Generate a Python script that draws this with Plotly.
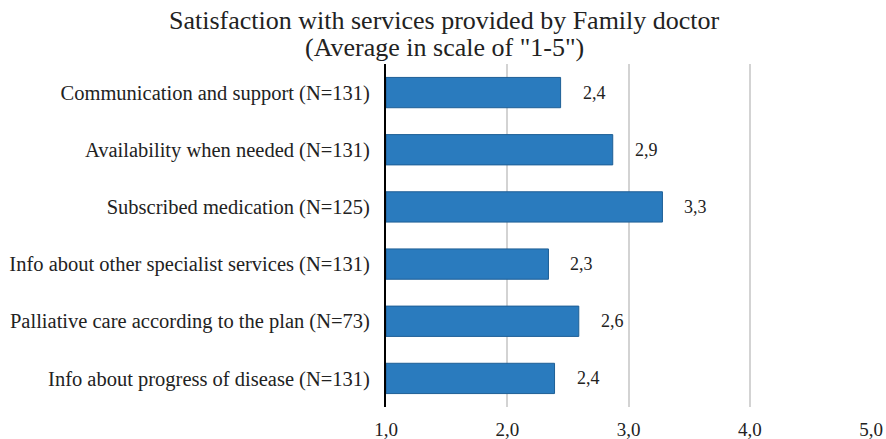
import plotly.graph_objects as go

categories = [
    "Communication and support (N=131)",
    "Availability when needed (N=131)",
    "Subscribed medication (N=125)",
    "Info about other specialist services (N=131)",
    "Palliative care according to the plan (N=73)",
    "Info about progress of disease (N=131)",
]
values = [2.44, 2.87, 3.28, 2.34, 2.59, 2.39]
value_labels = ["2,4", "2,9", "3,3", "2,3", "2,6", "2,4"]
tick_vals = [1, 2, 3, 4, 5]
tick_text = ["1,0", "2,0", "3,0", "4,0", "5,0"]
title_lines = ["Satisfaction with services provided by Family doctor",
               "(Average in scale of \"1-5\")"]

font_family = "Liberation Serif, Times New Roman, serif"

fig = go.Figure()
fig.add_trace(go.Bar(
    y=categories,
    x=[v - 1 for v in values],
    base=1,
    orientation="h",
    marker=dict(color="#2A7BBE", line=dict(color="#1E5F96", width=1)),
    width=0.53,
    hoverinfo="skip",
))

for c, v, t in zip(categories, values, value_labels):
    fig.add_annotation(x=v, y=c, text=t, showarrow=False, xanchor="left",
                       xshift=20, font=dict(family=font_family, size=18, color="#222"))

for line, ys in zip(title_lines, [44, 17]):
    fig.add_annotation(
        text=line, xref="paper", yref="paper", x=0.1196, y=1, yshift=ys,
        xanchor="center", yanchor="middle", showarrow=False,
        font=dict(family=font_family, size=26, color="#222"),
    )

fig.update_layout(
    width=886, height=439,
    margin=dict(l=386, r=15, t=64, b=32),
    paper_bgcolor="white", plot_bgcolor="white",
    separators=", ",
    showlegend=False,
    hovermode=False,
    xaxis=dict(
        range=[1, 5], tickvals=tick_vals, ticktext=tick_text,
        showgrid=True, gridcolor="#D3D3D3", gridwidth=2,
        zeroline=False, showline=False, automargin=False,
        tickfont=dict(family=font_family, size=19, color="#222"),
        ticks="", ticklen=0, ticklabelstandoff=9,
        fixedrange=True,
    ),
    yaxis=dict(
        categoryorder="array", categoryarray=categories, autorange="reversed",
        showline=True, linecolor="black", linewidth=2, automargin=False,
        tickfont=dict(family=font_family, size=20.5, color="#222"),
        ticks="", ticklabelstandoff=10, fixedrange=True,
    ),
)

fig.write_html(
    "out.html",
    config={"displayModeBar": False, "staticPlot": True},
    post_script="document.body.style.margin='0';document.body.style.overflow='hidden';",
)
